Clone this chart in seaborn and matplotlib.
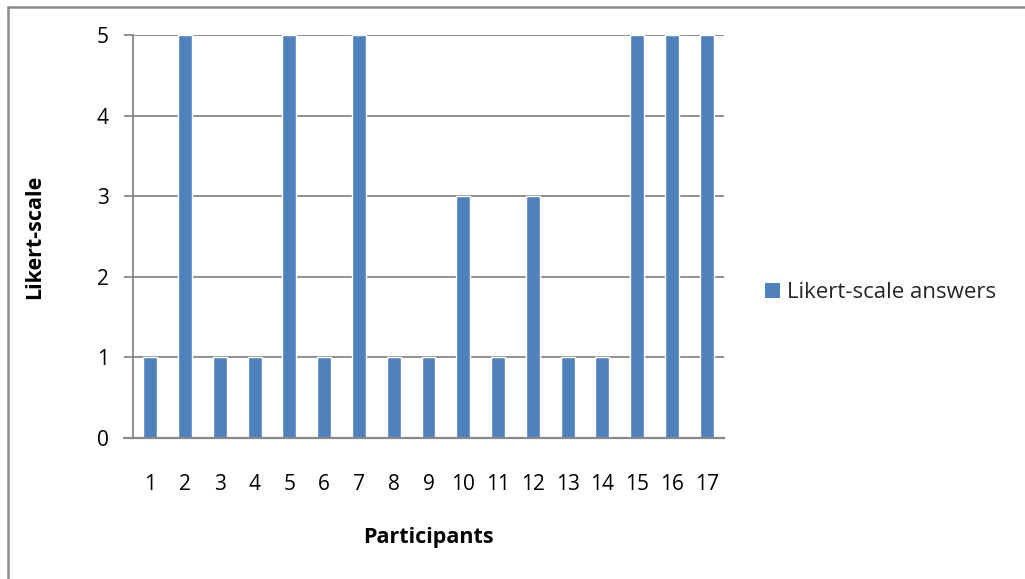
import matplotlib
matplotlib.use("Agg")
import matplotlib.pyplot as plt
from matplotlib.lines import Line2D
from matplotlib.patches import Patch
import seaborn as sns
import pandas as pd

participants = [str(i) for i in range(1, 18)]
answers = [1, 5, 1, 1, 5, 1, 5, 1, 1, 3, 1, 3, 1, 1, 5, 5, 5]
y_ticks = [0, 1, 2, 3, 4, 5]
series_name = "Likert-scale answers"

bar_color = "#4F81BD"
grid_color = "#888888"

sns.set_theme(style="white")
plt.rcParams["font.family"] = ["Open Sans", "DejaVu Sans"]

df = pd.DataFrame({"Participants": participants, "Answer": answers})

fig = plt.figure(figsize=(10.25, 5.79), dpi=100)
ax = fig.add_axes([133 / 1025, 1 - 438 / 579, 591 / 1025, 403 / 579])

sns.barplot(data=df, x="Participants", y="Answer", color=bar_color,
            width=0.4, saturation=1, ax=ax, order=participants)

ax.set_ylim(0, 5)
ax.set_xlim(-0.5, len(participants) - 0.5)
ax.set_yticks(y_ticks)
ax.set_yticklabels([str(t) for t in y_ticks], fontsize=15)
ax.set_xticklabels(participants, fontsize=15)
ax.yaxis.grid(True, color=grid_color, linewidth=1.3)
ax.set_axisbelow(True)

for side in ["top", "right"]:
    ax.spines[side].set_visible(False)
ax.spines["left"].set_color(grid_color)
ax.spines["left"].set_linewidth(1.3)
ax.spines["bottom"].set_color(grid_color)
ax.spines["bottom"].set_linewidth(1.6)

ax.tick_params(axis="y", length=6.5, width=1.3, color=grid_color, pad=11,
               left=True, labelcolor="black")
ax.tick_params(axis="x", length=0, pad=26, labelcolor="black")

# extend the zero line to the left so it meets the tick mark
ax.plot([-0.5 - 9 / 34.76, -0.5], [0, 0], color=grid_color, linewidth=1.6,
        clip_on=False)

ax.set_xlabel("Participants", fontsize=15.5, fontweight="bold", labelpad=23,
              color="black")
ax.set_ylabel("Likert-scale", fontsize=15.5, fontweight="bold", labelpad=37,
              color="black")

handle = Patch(facecolor=bar_color, edgecolor="none")
fig.legend([handle], [series_name], loc="center left",
           bbox_to_anchor=(765 / 1025, 1 - 293 / 579), frameon=False,
           fontsize=16, handlelength=0.68, handleheight=0.68,
           handletextpad=0.3, borderpad=0, borderaxespad=0)

# outer chart frame (only the top and left edges fall inside the image)
fig.add_artist(Line2D([8 / 1025, 1.0], [1 - 6.5 / 579, 1 - 6.5 / 579],
                      color="#8a8a8a", linewidth=1.8))
fig.add_artist(Line2D([8 / 1025, 8 / 1025], [0, 1 - 6.5 / 579],
                      color="#8a8a8a", linewidth=1.8))

fig.savefig("out.png", dpi=100, facecolor="white")
